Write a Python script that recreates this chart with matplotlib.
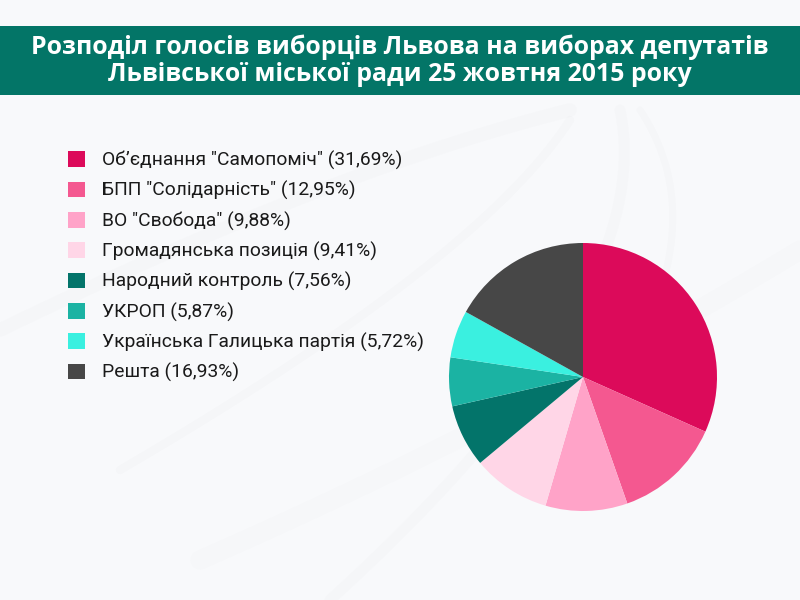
import matplotlib
matplotlib.use("Agg")
import matplotlib.pyplot as plt
from matplotlib.patches import Rectangle, Patch
import numpy as np

parties = ['Об’єднання "Самопоміч"', 'БПП "Солідарність"', 'ВО "Свобода"',
           'Громадянська позиція', 'Народний контроль', 'УКРОП',
           'Українська Галицька партія', 'Решта']
shares = [31.69, 12.95, 9.88, 9.41, 7.56, 5.87, 5.72, 16.93]
colors = ['#DC0A5A', '#F45890', '#FFA3C8', '#FFD6E7', '#03746A', '#1BB3A3',
          '#3AF0E0', '#474747']
title = "Розподіл голосів виборців Львова на виборах депутатів\nЛьвівської міської ради 25 жовтня 2015 року"

W, H = 800, 600
fig = plt.figure(figsize=(8, 6), dpi=100)
fig.patch.set_facecolor('#F8F9FB')

# background swooshes
bg = fig.add_axes([0, 0, 1, 1], zorder=0)
bg.set_xlim(0, W); bg.set_ylim(H, 0); bg.axis('off')
def bez(p0, p1, p2, n=200):
    t = np.linspace(0, 1, n)[:, None]
    return (1-t)**2*np.array(p0) + 2*(1-t)*t*np.array(p1) + t**2*np.array(p2)
for (p0, p1, p2, lw, a) in [
    ((0, 330), (330, 170), (570, 110), 10, 0.025),
    ((120, 470), (480, 260), (570, 120), 6, 0.03),
    ((330, 600), (660, 300), (620, 110), 8, 0.025),
    ((200, 560), (520, 420), (800, 250), 14, 0.015),
    ((640, 110), (700, 200), (650, 320), 5, 0.03),
]:
    c = bez(p0, p1, p2)
    bg.plot(c[:, 0], c[:, 1], color='#9a9aa0', lw=lw, alpha=a, solid_capstyle='round')

# banner
fig.patches.append(Rectangle((0, 1 - 95/H), 1, 69/H, transform=fig.transFigure,
                             facecolor='#037567', edgecolor='none', zorder=1))
fig.text(0.5, 1 - 61/H, title, ha='center', va='center', color='white',
         fontsize=17.9, fontweight='bold', family='Open Sans', linespacing=1.12, zorder=2)

# pie
cx, cy, r = 583, 377, 134
ax = fig.add_axes([(cx - r)/W, (H - cy - r)/H, 2*r/W, 2*r/H], zorder=2)
wedges, _ = ax.pie(shares, colors=colors, startangle=90, counterclock=False,
                   wedgeprops=dict(linewidth=0))
ax.set_xlim(-1, 1); ax.set_ylim(-1, 1); ax.set_aspect('equal')
ax.axis('off')

# legend
labels = [f"{p} ({str(v).replace('.', ',')}%)" for p, v in zip(parties, shares)]
handles = [Patch(facecolor=c, edgecolor='none') for c in colors]
leg = fig.legend(handles, labels, loc='upper left', bbox_to_anchor=(62/W, 1 - 145/H),
                 frameon=False, prop=dict(family='Roboto', size=13.85),
                 handlelength=0.88, handleheight=0.88, handletextpad=0.9,
                 labelspacing=0.58, borderaxespad=0, borderpad=0.3)
for t in leg.get_texts():
    t.set_color('#1a1a1a')

fig.savefig('out.png', dpi=100, facecolor=fig.get_facecolor())
